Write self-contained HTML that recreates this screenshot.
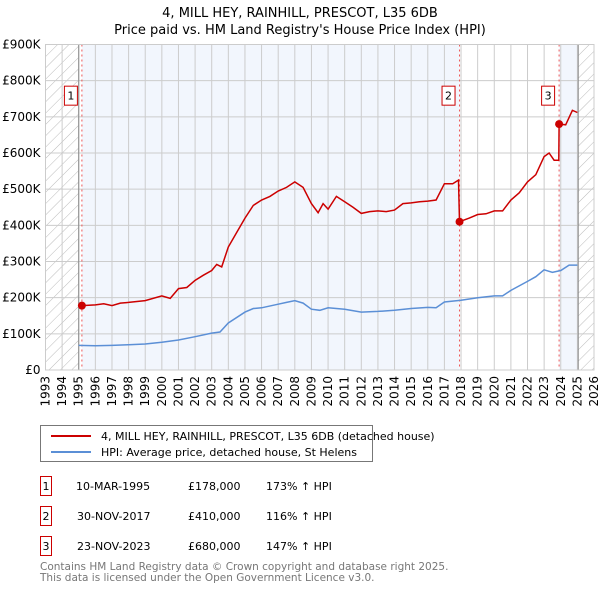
<!DOCTYPE html>
<html><head><meta charset="utf-8"><style>
body{margin:0;background:#fff;width:600px;height:590px;overflow:hidden;font-family:"DejaVu Sans","Liberation Sans",sans-serif;}
</style></head><body>
<svg id="chart" width="600" height="590" xmlns="http://www.w3.org/2000/svg" font-family="DejaVu Sans, Liberation Sans, sans-serif">
<defs>
<pattern id="hatch" width="8" height="8" patternUnits="userSpaceOnUse" patternTransform="rotate(45)">
<line x1="0" y1="0" x2="0" y2="8" stroke="#bbb" stroke-width="1"/>
</pattern>
</defs>
<text x="300" y="17" text-anchor="middle" font-size="13">4, MILL HEY, RAINHILL, PRESCOT, L35 6DB</text>
<text x="300" y="34" text-anchor="middle" font-size="13">Price paid vs. HM Land Registry's House Price Index (HPI)</text>
<g id="plot"></g>
<g>
<rect x="40.5" y="425.5" width="332" height="36" fill="#fff" stroke="#777"/>
<line x1="51" y1="436" x2="91" y2="436" stroke="#cc0000" stroke-width="2"/>
<text x="101" y="440" font-size="11">4, MILL HEY, RAINHILL, PRESCOT, L35 6DB (detached house)</text>
<line x1="51" y1="452" x2="91" y2="452" stroke="#5b8fd6" stroke-width="2"/>
<text x="101" y="456" font-size="11">HPI: Average price, detached house, St Helens</text>
</g>
<g font-size="11">
<rect x="40.5" y="476.5" width="11" height="19" fill="#fff" stroke="#cc0000"/><text x="46" y="490" text-anchor="middle">1</text>
<text x="76" y="490">10-MAR-1995</text><text x="188" y="490">£178,000</text><text x="266" y="490">173% ↑ HPI</text>
<rect x="40.5" y="506.5" width="11" height="19" fill="#fff" stroke="#cc0000"/><text x="46" y="520" text-anchor="middle">2</text>
<text x="77" y="520">30-NOV-2017</text><text x="188" y="520">£410,000</text><text x="266" y="520">116% ↑ HPI</text>
<rect x="40.5" y="536.5" width="11" height="19" fill="#fff" stroke="#cc0000"/><text x="46" y="550" text-anchor="middle">3</text>
<text x="77" y="550">23-NOV-2023</text><text x="188" y="550">£680,000</text><text x="266" y="550">147% ↑ HPI</text>
</g>
<text x="40" y="570" font-size="10.5" fill="#777">Contains HM Land Registry data © Crown copyright and database right 2025.</text>
<text x="40" y="581" font-size="10.5" fill="#777">This data is licensed under the Open Government Licence v3.0.</text>
</svg>
<script>
const hpiYears=[1995.0,1996,1997,1998,1999,2000,2001,2002,2003,2003.5,2004,2005,2005.5,2006,2007,2007.5,2008,2008.5,2009,2009.5,2010,2010.5,2011,2012,2013,2014,2015,2016,2016.5,2017,2018,2019,2020,2020.5,2021,2022,2022.5,2023,2023.5,2024,2024.5,2025];
const hpiValues=[68,67,68,70,72,77,83,92,102,105,130,160,170,172,182,187,192,185,168,165,172,170,168,160,162,165,170,173,172,188,193,200,205,205,220,245,258,277,270,275,290,290];
const redYears=[1995.19,1996,1996.5,1997,1997.5,1998,1999,2000,2000.5,2001,2001.5,2002,2002.5,2003,2003.3,2003.6,2004,2004.5,2005,2005.5,2006,2006.5,2007,2007.5,2008,2008.5,2009,2009.4,2009.7,2010,2010.5,2011,2011.5,2012,2012.5,2013,2013.5,2014,2014.5,2015,2015.5,2016,2016.5,2017,2017.5,2017.85,2017.91,2018.5,2019,2019.5,2020,2020.5,2021,2021.5,2022,2022.5,2023,2023.3,2023.6,2023.88,2023.9,2024.3,2024.7,2025];
const redValues=[178,180,183,178,185,187,192,205,198,225,228,248,262,275,292,285,340,380,420,455,470,480,495,505,520,505,460,435,460,445,480,465,450,433,438,440,438,442,460,462,465,467,470,515,515,525,410,420,430,432,440,440,470,490,520,540,590,600,580,580,680,678,718,712];
const saleYears=[1995.19,2017.91,2023.9];
const saleValues=[178,410,680];
const saleLabels=["1","2","3"];
const yTicks=[0,100,200,300,400,500,600,700,800,900];
const yTickLabels=["£0","£100K","£200K","£300K","£400K","£500K","£600K","£700K","£800K","£900K"];
const xTicks=[1993,1994,1995,1996,1997,1998,1999,2000,2001,2002,2003,2004,2005,2006,2007,2008,2009,2010,2011,2012,2013,2014,2015,2016,2017,2018,2019,2020,2021,2022,2023,2024,2025,2026];

const X0=45.5,X1=594,Y0=370,Y1=44.5;
const x=t=>X0+(t-1993)/(2026-1993)*(X1-X0);
const y=v=>Y0-v/900*(Y0-Y1);
const NS="http://www.w3.org/2000/svg";
const g=document.getElementById('plot');
function mk(tag,at,parent){const e=document.createElementNS(NS,tag);for(const k in at)e.setAttribute(k,at[k]);(parent||g).appendChild(e);return e;}
let r;
r=mk('rect',{x:X0,y:Y1,width:x(1995)-X0,height:Y0-Y1,fill:'url(#hatch)'});


r=mk('rect',{x:x(2025.05),y:Y1,width:X1-x(2025.05),height:Y0-Y1,fill:'url(#hatch)'});


r=mk('rect',{x:x(saleYears[0]),y:Y1,width:x(saleYears[1])-x(saleYears[0]),height:Y0-Y1,fill:'#f2f6fd'});


r=mk('rect',{x:x(saleYears[2]),y:Y1,width:x(2025.05)-x(saleYears[2]),height:Y0-Y1,fill:'#f2f6fd'});


xTicks.forEach(t=>{
 const l=mk('line',{x1:x(t),x2:x(t),y1:Y1,y2:Y0,stroke:'#ccc','stroke-width':1});
 
 
 const tx=mk('text',{transform:`translate(${x(t)+4},${Y0+6}) rotate(-90)`,'text-anchor':'end','font-size':12});
 tx.textContent=t;
 
 
});
yTicks.forEach((v,i)=>{
 const l=mk('line',{x1:X0,x2:X1,y1:y(v),y2:y(v),stroke:'#ccc','stroke-width':1});
 
 
 const tx=mk('text',{x:X0-5,y:y(v)+4,'text-anchor':'end','font-size':12});
 tx.textContent=yTickLabels[i];
 
 
});
r=mk('line',{x1:x(1995),x2:x(1995),y1:Y1,y2:Y0,stroke:'#888'});


r=mk('line',{x1:x(2025.05),x2:x(2025.05),y1:Y1,y2:Y0,stroke:'#888'});


saleYears.forEach((t,i)=>{
 const l=mk('line',{x1:x(t),x2:x(t),y1:Y1,y2:Y0,stroke:'#ee5555','stroke-dasharray':'2,3','stroke-width':1});
 
 
});
const pts=(xs,vs)=>xs.map((t,i)=>x(t).toFixed(1)+','+y(vs[i]).toFixed(1)).join(' ');
r=mk('polyline',{points:pts(hpiYears,hpiValues),fill:'none',stroke:'#5b8fd6','stroke-width':1.5});


r=mk('polyline',{points:pts(redYears,redValues),fill:'none',stroke:'#cc0000','stroke-width':1.5});


saleYears.forEach((t,i)=>{
 const c=mk('circle',{cx:x(t),cy:y(saleValues[i]),r:4,fill:'#cc0000'});
 
 
 const bx=mk('rect',{x:x(t)-17.5,y:y(800)+5.5,width:13,height:19,fill:'#fff',stroke:'#cc0000'});
 
 
 const tx=mk('text',{x:x(t)-11,y:y(800)+19,'text-anchor':'middle','font-size':11});
 tx.textContent=saleLabels[i];
 
 
});
r=mk('rect',{x:X0,y:Y1,width:X1-X0,height:Y0-Y1,fill:'none',stroke:'#ccc'});


</script>
</body></html>
